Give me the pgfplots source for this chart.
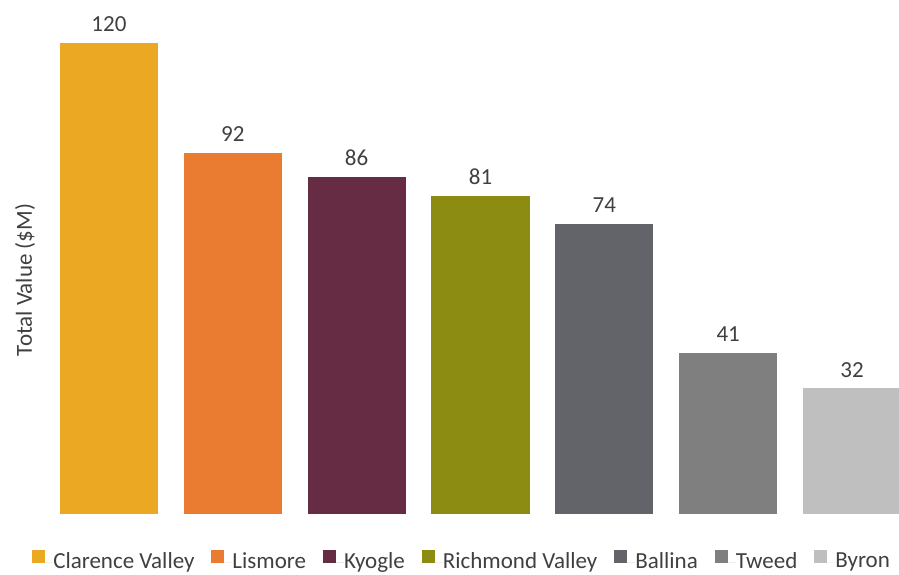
\documentclass[border=0pt]{standalone}
\usepackage{fontspec}
\setmainfont{Carlito}
\usepackage{pgfplots}
\pgfplotsset{compat=1.18}
\definecolor{cClar}{HTML}{EBA823}
\definecolor{cLism}{HTML}{E97C30}
\definecolor{cKyog}{HTML}{652C43}
\definecolor{cRich}{HTML}{8B8C11}
\definecolor{cBall}{HTML}{626469}
\definecolor{cTwee}{HTML}{7F7F7F}
\definecolor{cByro}{HTML}{BFBFBF}
\definecolor{txt}{HTML}{404040}
\begin{document}
\fontsize{23}{27}\selectfont
\begin{tikzpicture}
\useasboundingbox (-47pt,-61pt) rectangle (852pt,514pt);
\begin{axis}[
  scale only axis,
  width=852pt, height=510pt,
  at={(0pt,0pt)}, anchor=south west,
  xmin=-0.5, xmax=6.379,
  ymin=0, ymax=130,
  ybar, bar width=98pt,
  axis line style={draw=none},
  major tick length=0pt,
  xtick=\empty, ytick=\empty,
  clip=false,
  /pgf/number format/assume math mode=true,
  ylabel={Total Value (\$M)},
  ylabel style={at={(axis description cs:-0.0258,0.459)}, anchor=center, font=\fontsize{23}{27}\selectfont, text=txt},
  nodes near coords,
  nodes near coords style={anchor=south, inner sep=0pt, yshift=11pt, font=\fontsize{23}{27}\selectfont, text=txt},
  legend columns=7,
  legend style={at={(axis description cs:0.486,-0.092)}, anchor=center, draw=none, fill=none,
     font=\fontsize{23}{27}\selectfont, text=txt, inner sep=0pt,
     nodes={inner sep=0pt},
     /tikz/every even column/.append style={column sep=17pt},
     /tikz/every odd column/.append style={column sep=0pt}},
  legend image code/.code={\fill[#1] (0pt,-1pt) rectangle (13pt,12pt); \path (0pt,0pt) -- (21pt,0pt);},
  legend cell align=left,
]
\addplot[fill=cClar, draw=none, bar shift=0pt] coordinates {(0,120)};
\addlegendentry{Clarence Valley}
\addplot[fill=cLism, draw=none, bar shift=0pt] coordinates {(1,92)};
\addlegendentry{Lismore}
\addplot[fill=cKyog, draw=none, bar shift=0pt] coordinates {(2,86)};
\addlegendentry{Kyogle}
\addplot[fill=cRich, draw=none, bar shift=0pt] coordinates {(3,81)};
\addlegendentry{Richmond Valley}
\addplot[fill=cBall, draw=none, bar shift=0pt] coordinates {(4,74)};
\addlegendentry{Ballina}
\addplot[fill=cTwee, draw=none, bar shift=0pt] coordinates {(5,41)};
\addlegendentry{Tweed}
\addplot[fill=cByro, draw=none, bar shift=0pt] coordinates {(6,32)};
\addlegendentry{Byron}
\end{axis}
\end{tikzpicture}
\end{document}
